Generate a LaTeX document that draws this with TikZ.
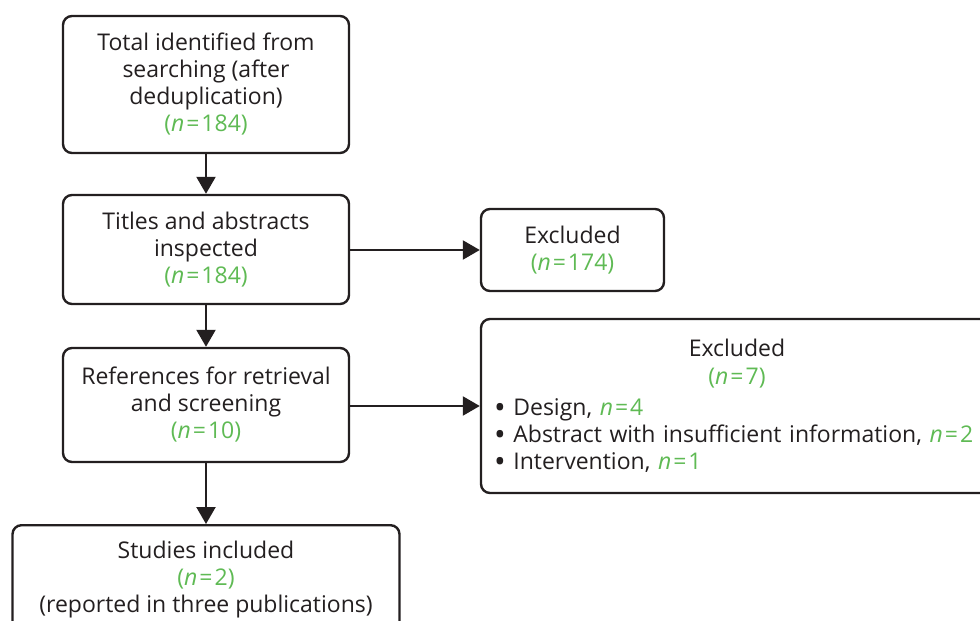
\documentclass[tikz,border=0pt]{standalone}
\usepackage{fontspec}
\usepackage{graphicx}
\setmainfont{Open Sans}
\usetikzlibrary{arrows.meta}
\definecolor{ink}{RGB}{35,31,32}
\definecolor{ngreen}{RGB}{95,186,84}
\newcommand{\nval}[1]{\textcolor{ngreen}{\textit{n}\kern2pt=\kern2pt#1}}
\newcommand{\ncount}[1]{\textcolor{ngreen}{(\textit{n}\kern2pt=\kern2pt#1)}}
\newcommand{\blt}{\smash{\raisebox{-2.6pt}{\scalebox{1.35}{\textbullet}}}\ }
\tikzset{
  flowbox/.style={draw=ink, line width=2.4pt, rounded corners=9pt, text=ink,
    align=center, inner sep=0pt, font=\fontsize{23}{27}\selectfont},
  flowarrow/.style={draw=ink, line width=2.2pt, -{Triangle[length=17pt,width=19pt]}}
}
\begin{document}
\begin{tikzpicture}[x=1pt,y=-1pt]
\useasboundingbox (0,0) rectangle (980,621);

\node[flowbox, minimum width=286pt, minimum height=137pt] (b1) at (206,84.5)
  {Total identified from\\searching (after\\deduplication)\\\ncount{184}};
\node[flowbox, minimum width=286pt, minimum height=109pt] (b2) at (206,249.5)
  {Titles and abstracts\\inspected\\\ncount{184}};
\node[flowbox, minimum width=286pt, minimum height=114pt] (b3) at (206,405)
  {References for retrieval\\and screening\\\ncount{10}};
\node[flowbox, minimum width=387pt, minimum height=108pt, anchor=north] (b4) at (206,524)
  {Studies included\\\ncount{2}\\(reported in three publications)};

\node[flowbox, minimum width=183pt, minimum height=82pt] (ex1) at (572.5,250)
  {Excluded\\\ncount{174}};
\node[flowbox, minimum width=512pt, minimum height=174pt, text width=486pt, align=left] (ex2) at (737,406)
  {{\centering Excluded\\[1pt]\ncount{7}\par}
   \vspace{4pt}\raggedright
   \blt Design, \nval{4}\\
   \blt Abstract with insufficient information, \nval{2}\\
   \blt Intervention, \nval{1}};

\draw[flowarrow] (b1) -- (b2);
\draw[flowarrow] (b2) -- (b3);
\draw[flowarrow] (b3) -- (b4);
\draw[flowarrow] (b2.east |- ex1.west) -- (ex1.west);
\draw[flowarrow] (b3.east |- ex2.west) -- (ex2.west);
\end{tikzpicture}
\end{document}
